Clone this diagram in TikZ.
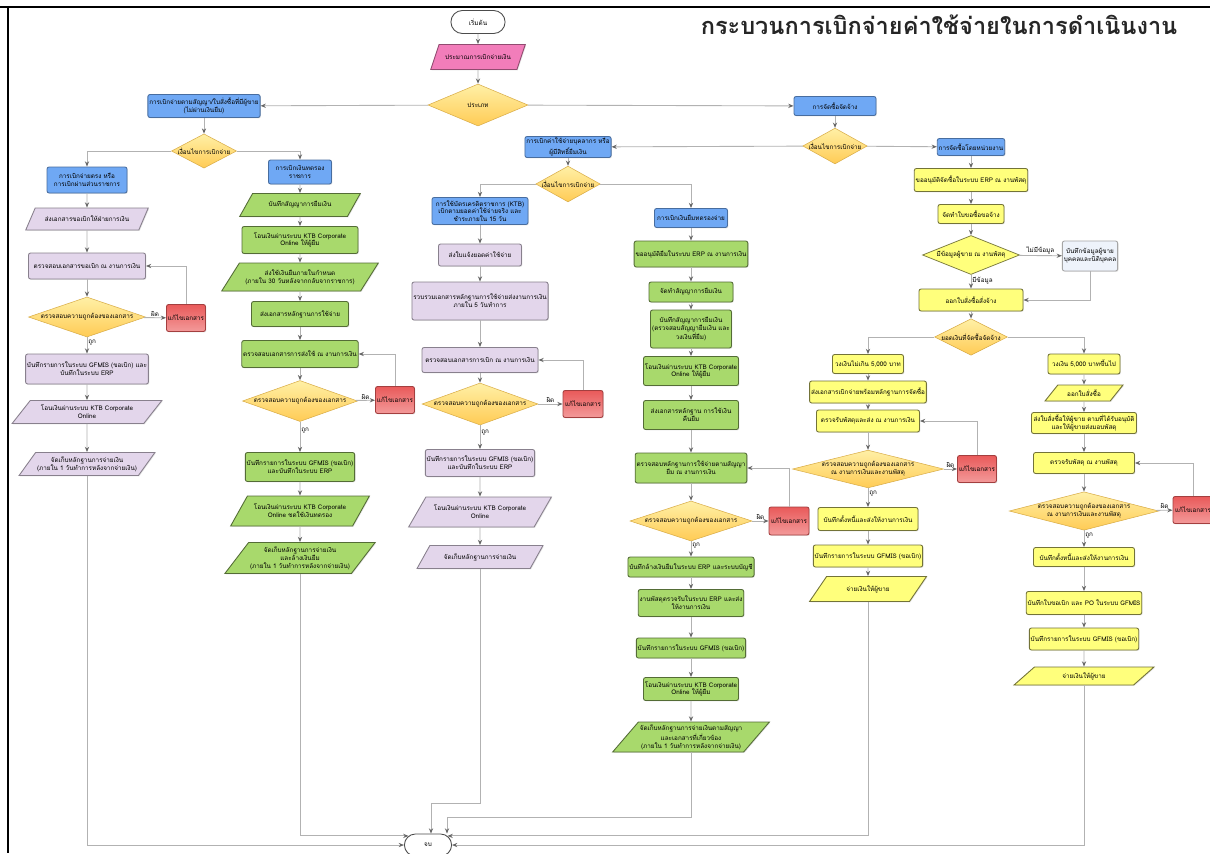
\documentclass[tikz,border=0pt]{standalone}
\usepackage{fontspec}
\newfontfamily\thai[Script=Thai]{Loma}
\usetikzlibrary{shapes.geometric,shapes.misc,arrows.meta,shadows}

\definecolor{blubox}{HTML}{6FA8F4}
\definecolor{purbox}{HTML}{E3D6EB}
\definecolor{grnbox}{HTML}{A8D96C}
\definecolor{ylwbox}{HTML}{FFFF7C}
\definecolor{pinkbox}{HTML}{F27DBA}
\definecolor{redtop}{HTML}{E95A5A}
\definecolor{redbot}{HTML}{F39A9A}
\definecolor{dectop}{HTML}{FFF0A6}
\definecolor{decbot}{HTML}{FFCB55}
\definecolor{infobox}{HTML}{EEF3FB}

\tikzset{
  txt/.style={font=\thai\fontsize{3.6}{4.4}\selectfont, align=center, inner sep=0.8pt},
  wh/.style 2 args={minimum width=#1*0.02cm, minimum height=#2*0.02cm},
  shd/.style={drop shadow={shadow xshift=0.5pt, shadow yshift=-0.5pt, opacity=0.2}},
  box/.style={txt, shd, rectangle, rounded corners=1.2pt, line width=0.5pt},
  io/.style={txt, shd, trapezium, trapezium left angle=47, trapezium right angle=133,
    trapezium stretches=true, line width=0.5pt},
  blu/.style={box, fill=blubox, draw=blubox!65!black},
  pur/.style={box, fill=purbox, draw=purbox!60!black},
  purio/.style={io, fill=purbox, draw=purbox!60!black},
  grn/.style={box, fill=grnbox, draw=grnbox!50!black},
  grnio/.style={io, fill=grnbox, draw=grnbox!50!black},
  ylw/.style={box, fill=ylwbox, draw=ylwbox!45!black},
  ylwio/.style={io, fill=ylwbox, draw=ylwbox!45!black},
  fix/.style={box, top color=redtop, bottom color=redbot, draw=redtop!70!black},
  dec/.style={txt, diamond, inner sep=0pt, top color=dectop, bottom color=decbot,
    draw=decbot!85!black, line width=0.3pt},
  term/.style={txt, rounded rectangle, draw=black!70, fill=white, line width=0.5pt},
  line/.style={draw=black!30, line width=0.5pt, -{Stealth[length=3pt,width=2.4pt,color=black!60]}},
  lbl/.style={font=\thai\fontsize{3.6}{4.4}\selectfont, inner sep=0.5pt},
}

\begin{document}
\begin{tikzpicture}[x=0.02cm, y=-0.02cm]
  \useasboundingbox (0,0) rectangle (1210,853);
  \fill[white] (0,0) rectangle (1210,853);

  % frame and title
  \draw[line width=1.6pt] (0,7) -- (1210,7);
  \draw[line width=1.6pt] (8,7) -- (8,853);
  \node[font=\thai\bfseries\fontsize{13.4}{16}\selectfont, text=black!85] (title) at (939,25)
    {กระบวนการเบิกจ่ายค่าใช้จ่ายในการดำเนินงาน};

  % top
  \node[term, wh={57}{23}] (start) at (478,22) {เริ่มต้น};
  \node[io, fill=pinkbox, draw=pinkbox!60!black, wh={95}{25}] (budget) at (478,57) {ประมาณการเบิกจ่ายเงิน};
  \node[dec, aspect=2.4, wh={100}{42}] (kind) at (478,105) {ประเภท};

  % left: contract payments
  \node[blu, wh={97}{23}] (direct) at (204,106) {การเบิกจ่ายตามสัญญา/ใบสั่งซื้อที่มีผู้ขาย\\(ไม่ผ่านเงินยืม)};
  \node[dec, aspect=1.9, wh={60}{32}] (cond1) at (204,151) {เงื่อนไขการเบิกจ่าย};

  \node[blu, wh={80}{26}] (pa0) at (87,180) {การเบิกจ่ายตรง หรือ\\การเบิกผ่านส่วนราชการ};
  \node[purio, wh={123}{22}] (pa1) at (87,219) {ส่งเอกสารขอเบิกให้ฝ่ายการเงิน};
  \node[pur, wh={117}{26}] (pa2) at (87,266) {ตรวจสอบเอกสารขอเบิก ณ งานการเงิน};
  \node[dec, aspect=2.9, wh={117}{40}] (pa3) at (87,317) {ตรวจสอบความถูกต้องของเอกสาร};
  \node[fix, wh={39}{27}] (pafix) at (186,318) {แก้ไขเอกสาร};
  \node[pur, wh={103}{30}] (pa4) at (87,369) {บันทึกรายการในระบบ GFMIS (ขอเบิก) และ\\บันทึกในระบบ ERP};
  \node[purio, wh={150}{23}] (pa5) at (87,412) {โอนเงินผ่านระบบ KTB Corporate\\Online};
  \node[purio, wh={133}{23}] (pa6) at (87,464) {จัดเก็บหลักฐานการจ่ายเงิน\\(ภายใน 1 วันทำการหลังจากจ่ายเงิน)};

  \node[blu, wh={63}{24}] (ga0) at (300,172) {การเบิกเงินทดรอง\\ราชการ};
  \node[grnio, wh={121}{23}] (ga1) at (300,205) {บันทึกสัญญาการยืมเงิน};
  \node[grn, wh={116}{27}] (ga2) at (300,240) {โอนเงินผ่านระบบ KTB Corporate\\Online ให้ผู้ยืม};
  \node[grnio, wh={157}{28}] (ga3) at (300,277) {ส่งใช้เงินยืมภายในกำหนด\\(ภายใน 30 วันหลังจากกลับจากราชการ)};
  \node[grn, wh={97}{25}] (ga4) at (300,314) {ส่งเอกสารหลักฐานการใช้จ่าย};
  \node[grn, wh={116}{27}] (ga5) at (300,354) {ตรวจสอบเอกสารการส่งใช้ ณ งานการเงิน};
  \node[dec, aspect=2.8, wh={115}{41}] (ga6) at (300,401) {ตรวจสอบความถูกต้องของเอกสาร};
  \node[fix, wh={39}{27}] (gafix) at (395,400) {แก้ไขเอกสาร};
  \node[grn, wh={93}{29}] (ga7) at (300,467) {บันทึกรายการในระบบ GFMIS (ขอเบิก)\\และบันทึกในระบบ ERP};
  \node[grnio, wh={139}{30}] (ga8) at (300,511) {โอนเงินผ่านระบบ KTB Corporate\\Online ชดใช้เงินทดรอง};
  \node[grnio, wh={142}{31}] (ga9) at (300,558) {จัดเก็บหลักฐานการจ่ายเงิน\\และล้างเงินยืม\\(ภายใน 1 วันทำการหลังจากจ่ายเงิน)};

  % middle: loans and credit card
  \node[blu, wh={82}{19}] (procure) at (835,106) {การจัดซื้อจัดจ้าง};
  \node[dec, aspect=1.8, wh={62}{34}] (cond2) at (835,146) {เงื่อนไขการเบิกจ่าย};
  \node[blu, wh={77}{21}] (loan) at (568,147) {การเบิกค่าใช้จ่ายบุคลากร หรือ\\ผู้มีสิทธิ์ยืมเงิน};
  \node[dec, aspect=1.8, wh={61}{34}] (cond3) at (568,184) {เงื่อนไขการเบิกจ่าย};

  \node[blu, wh={96}{27}] (pb0) at (480,211) {การใช้บัตรเครดิตราชการ (KTB)\\เบิกตามยอดค่าใช้จ่ายจริง และ\\ชำระภายใน 15 วัน};
  \node[pur, wh={83}{22}] (pb1) at (480,255) {ส่งใบแจ้งยอดค่าใช้จ่าย};
  \node[pur, wh={128}{38}] (pb2) at (480,301) {รวบรวมเอกสารหลักฐานการใช้จ่ายส่งงานการเงิน\\ภายใน 5 วันทำการ};
  \node[pur, wh={116}{25}] (pb3) at (480,360) {ตรวจสอบเอกสารการเบิก ณ งานการเงิน};
  \node[dec, aspect=2.8, wh={116}{42}] (pb4) at (480,404) {ตรวจสอบความถูกต้องของเอกสาร};
  \node[fix, wh={40}{27}] (pbfix) at (583,404) {แก้ไขเอกสาร};
  \node[pur, wh={93}{27}] (pb5) at (480,463) {บันทึกรายการในระบบ GFMIS (ขอเบิก)\\และบันทึกในระบบ ERP};
  \node[purio, wh={143}{30}] (pb6) at (480,512) {โอนเงินผ่านระบบ KTB Corporate\\Online};
  \node[purio, wh={126}{23}] (pb7) at (480,557) {จัดเก็บหลักฐานการจ่ายเงิน};

  \node[blu, wh={73}{19}] (gb0) at (691,218) {การเบิกเงินยืมทดรองจ่าย};
  \node[grn, wh={110}{26}] (gb1) at (691,254) {ขออนุมัติยืมในระบบ ERP ณ งานการเงิน};
  \node[grn, wh={84}{20}] (gb2) at (691,292) {จัดทำสัญญาการยืมเงิน};
  \node[grn, wh={81}{38}] (gb3) at (691,329) {บันทึกสัญญาการยืมเงิน\\(ตรวจสอบสัญญายืมเงิน และ\\วงเงินที่ยืม)};
  \node[grn, wh={95}{29}] (gb4) at (691,371) {โอนเงินผ่านระบบ KTB Corporate\\Online ให้ผู้ยืม};
  \node[grn, wh={95}{29}] (gb5) at (691,415) {ส่งเอกสารหลักฐาน การใช้เงิน\\คืนยืม};
  \node[grn, wh={96}{30}] (gb6) at (691,468) {ตรวจสอบหลักฐานการใช้จ่ายตามสัญญา\\ยืม ณ งานการเงิน};
  \node[dec, aspect=3, wh={122}{40}] (gb7) at (691,521) {ตรวจสอบความถูกต้องของเอกสาร};
  \node[fix, wh={40}{28}] (gbfix) at (789,521) {แก้ไขเอกสาร};
  \node[grn, wh={117}{20}] (gb8) at (691,567) {บันทึกล้างเงินยืมในระบบ ERP และระบบบัญชี};
  \node[grn, wh={103}{27}] (gb9) at (691,603) {งานพัสดุตรวจรับในระบบ ERP และส่ง\\ให้งานการเงิน};
  \node[grn, wh={94}{20}] (gb10) at (691,648) {บันทึกรายการในระบบ GFMIS (ขอเบิก)};
  \node[grn, wh={95}{23}] (gb11) at (691,689) {โอนเงินผ่านระบบ KTB Corporate\\Online ให้ผู้ยืม};
  \node[grnio, wh={141}{30}] (gb12) at (691,737) {จัดเก็บหลักฐานการจ่ายเงินตามสัญญา\\และเอกสารที่เกี่ยวข้อง\\(ภายใน 1 วันทำการหลังจากจ่ายเงิน)};

  % right: procurement
  \node[blu, wh={63}{17}] (firm) at (971,147) {การจัดซื้อโดยหน่วยงาน};
  \node[ylw, wh={104}{23}] (ya1) at (971,180) {ขออนุมัติจัดซื้อในระบบ ERP ณ งานพัสดุ};
  \node[ylw, wh={66}{19}] (ya2) at (971,214) {จัดทำใบขอซื้อขอจ้าง};
  \node[txt, diamond, aspect=2.5, inner sep=0pt, fill=ylwbox, draw=ylwbox!45!black, line width=0.4pt, wh={97}{39}] (vend) at (971,255) {มีข้อมูลผู้ขาย ณ งานพัสดุ};
  \node[box, fill=infobox, draw=black!35, wh={52}{30}] (newv) at (1090,256) {บันทึกข้อมูลผู้ขาย\\บุคคลและนิติบุคคล};
  \node[ylw, wh={104}{22}] (ya3) at (971,300) {ออกใบสั่งซื้อสั่งจ้าง};
  \node[dec, aspect=2, wh={70}{34}] (amt) at (971,337) {ยอดเงินที่จัดซื้อจัดจ้าง};

  \node[ylw, wh={71}{19}] (yl0) at (868,364) {วงเงินไม่เกิน 5,000 บาท};
  \node[ylw, wh={107}{22}] (yl1) at (868,392) {ส่งเอกสารเบิกจ่ายพร้อมหลักฐานการจัดซื้อ};
  \node[ylw, wh={103}{22}] (yl2) at (868,421) {ตรวจรับพัสดุและส่ง ณ งานการเงิน};
  \node[dec, aspect=4, wh={148}{35}] (yl3) at (868,469) {ตรวจสอบความถูกต้องของเอกสาร\\ณ งานการเงินและงานพัสดุ};
  \node[fix, wh={39}{27}] (ylfix) at (977,469) {แก้ไขเอกสาร};
  \node[ylw, wh={100}{23}] (yl4) at (868,519) {บันทึกตั้งหนี้และส่งให้งานการเงิน};
  \node[ylw, wh={100}{22}] (yl5) at (868,556) {บันทึกรายการในระบบ GFMIS (ขอเบิก)};
  \node[ylwio, wh={117}{25}] (yl6) at (868,589) {จ่ายเงินให้ผู้ขาย};

  \node[ylw, wh={72}{20}] (yr0) at (1084,364) {วงเงิน 5,000 บาทขึ้นไป};
  \node[ylwio, wh={78}{16}] (yr1) at (1084,393) {ออกใบสั่งซื้อ};
  \node[ylw, wh={105}{21}] (yr2) at (1084,423) {ส่งใบสั่งซื้อให้ผู้ขาย ตามที่ได้รับอนุมัติ\\และให้ผู้ขายส่งมอบพัสดุ};
  \node[ylw, wh={101}{21}] (yr3) at (1084,463) {ตรวจรับพัสดุ ณ งานพัสดุ};
  \node[dec, aspect=3.9, wh={142}{36}] (yr4) at (1084,511) {ตรวจสอบความถูกต้องของเอกสาร\\ณ งานการเงินและงานพัสดุ};
  \node[fix, wh={40}{27}] (yrfix) at (1193,510) {แก้ไขเอกสาร};
  \node[ylw, wh={101}{19}] (yr5) at (1084,557) {บันทึกตั้งหนี้และส่งให้งานการเงิน};
  \node[ylw, wh={105}{23}] (yr6) at (1084,603) {บันทึกใบขอเบิก และ PO ในระบบ GFMIS};
  \node[ylw, wh={100}{22}] (yr7) at (1084,639) {บันทึกรายการในระบบ GFMIS (ขอเบิก)};
  \node[ylwio, wh={140}{18}] (yr8) at (1084,676) {จ่ายเงินให้ผู้ขาย};

  \node[term, wh={50}{22}] (endn) at (428,845) {จบ};

  % flow
  \draw[line] (start) -- (budget);
  \draw[line] (budget) -- (kind);
  \draw[line] (kind) -- (direct);
  \draw[line] (kind) -- (procure);
  \draw[line] (direct) -- (cond1);
  \draw[line] (cond1.west) -| (pa0.north);
  \draw[line] (cond1.east) -| (ga0.north);
  \draw[line] (procure) -- (cond2);
  \draw[line] (cond2) -- (loan);
  \draw[line] (cond2) -- (firm);
  \draw[line] (loan) -- (cond3);
  \draw[line] (cond3.west) -| (pb0.north);
  \draw[line] (cond3.east) -| (gb0.north);

  \draw[line] (pa0) -- (pa1);
  \draw[line] (pa1) -- (pa2);
  \draw[line] (pa2) -- (pa3);
  \draw[line] (pa3) -- node[lbl, above] {ผิด} (pafix);
  \draw[line] (pafix.north) |- (pa2.east);
  \draw[line] (pa3) -- node[lbl, right, pos=0.35] {ถูก} (pa4);
  \draw[line] (pa4) -- (pa5);
  \draw[line] (pa5) -- (pa6);

  \draw[line] (ga0) -- (ga1);
  \draw[line] (ga1) -- (ga2);
  \draw[line] (ga2) -- (ga3);
  \draw[line] (ga3) -- (ga4);
  \draw[line] (ga4) -- (ga5);
  \draw[line] (ga5) -- (ga6);
  \draw[line] (ga6) -- node[lbl, above] {ผิด} (gafix);
  \draw[line] (gafix.north) |- (ga5.east);
  \draw[line] (ga6) -- node[lbl, right, pos=0.3] {ถูก} (ga7);
  \draw[line] (ga7) -- (ga8);
  \draw[line] (ga8) -- (ga9);

  \draw[line] (pb0) -- (pb1);
  \draw[line] (pb1) -- (pb2);
  \draw[line] (pb2) -- (pb3);
  \draw[line] (pb3) -- (pb4);
  \draw[line] (pb4) -- node[lbl, above] {ผิด} (pbfix);
  \draw[line] (pbfix.north) |- (pb3.east);
  \draw[line] (pb4) -- node[lbl, right, pos=0.3] {ถูก} (pb5);
  \draw[line] (pb5) -- (pb6);
  \draw[line] (pb6) -- (pb7);

  \draw[line] (gb0) -- (gb1);
  \draw[line] (gb1) -- (gb2);
  \draw[line] (gb2) -- (gb3);
  \draw[line] (gb3) -- (gb4);
  \draw[line] (gb4) -- (gb5);
  \draw[line] (gb5) -- (gb6);
  \draw[line] (gb6) -- (gb7);
  \draw[line] (gb7) -- node[lbl, above] {ผิด} (gbfix);
  \draw[line] (gbfix.north) |- (gb6.east);
  \draw[line] (gb7) -- node[lbl, right, pos=0.3] {ถูก} (gb8);
  \draw[line] (gb8) -- (gb9);
  \draw[line] (gb9) -- (gb10);
  \draw[line] (gb10) -- (gb11);
  \draw[line] (gb11) -- (gb12);

  \draw[line] (firm) -- (ya1);
  \draw[line] (ya1) -- (ya2);
  \draw[line] (ya2) -- (vend);
  \draw[line] (vend) -- node[lbl, above] {ไม่มีข้อมูล} (newv);
  \draw[line] (newv.south) |- (ya3.east);
  \draw[line] (vend) -- node[lbl, right, pos=0.4] {มีข้อมูล} (ya3);
  \draw[line] (ya3) -- (amt);
  \draw[line] (amt.west) -| (yl0.north);
  \draw[line] (amt.east) -| (yr0.north);

  \draw[line] (yl0) -- (yl1);
  \draw[line] (yl1) -- (yl2);
  \draw[line] (yl2) -- (yl3);
  \draw[line] (yl3) -- node[lbl, above] {ผิด} (ylfix);
  \draw[line] (ylfix.north) |- (yl2.east);
  \draw[line] (yl3) -- node[lbl, right, pos=0.3] {ถูก} (yl4);
  \draw[line] (yl4) -- (yl5);
  \draw[line] (yl5) -- (yl6);

  \draw[line] (yr0) -- (yr1);
  \draw[line] (yr1) -- (yr2);
  \draw[line] (yr2) -- (yr3);
  \draw[line] (yr3) -- (yr4);
  \draw[line] (yr4) -- node[lbl, above] {ผิด} (yrfix);
  \draw[line] (yrfix.north) |- (yr3.east);
  \draw[line] (yr4) -- node[lbl, right, pos=0.3] {ถูก} (yr5);
  \draw[line] (yr5) -- (yr6);
  \draw[line] (yr6) -- (yr7);
  \draw[line] (yr7) -- (yr8);

  % into the end
  \coordinate (e1) at (431,803);
  \coordinate (e2) at (447,817);
  \draw[line] (pa6.south) |- (endn.west);
  \draw[line] (ga9.south) |- (endn.155);
  \draw[line] (pb7.south) |- (e1) -- (e1 |- endn.north);
  \draw[line] (gb12.south) |- (e2) -- (e2 |- endn.north);
  \draw[line] (yl6.south) |- (endn.25);
  \draw[line] (yr8.south) |- (endn.east);
\end{tikzpicture}
\end{document}
